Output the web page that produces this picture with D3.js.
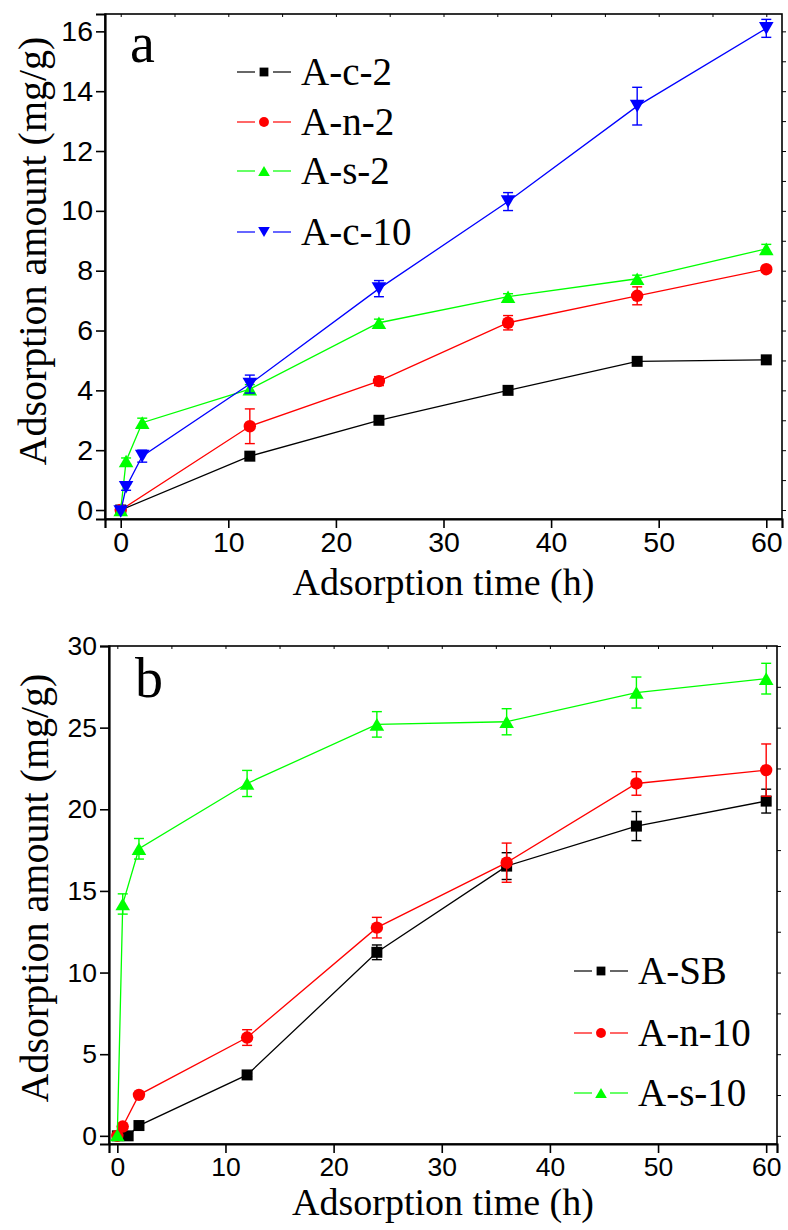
<!DOCTYPE html>
<html>
<head>
<meta charset="utf-8">
<script src="https://cdn.jsdelivr.net/npm/d3@7/dist/d3.min.js"></script>
<style>
  html, body { margin: 0; padding: 0; background: #fff; }
  svg { display: block; }
</style>
</head>
<body>
<svg id="chart" width="788" height="1230"></svg>
<script>
// ---------- DATA ----------
// Panel a
const aXTicks = [0, 10, 20, 30, 40, 50, 60];
const aYTicks = [0, 2, 4, 6, 8, 10, 12, 14, 16];
const aTime_c2 = [0, 12, 24, 36, 48, 60];
const aVal_c2  = [0, 1.8, 3.0, 4.0, 4.97, 5.02];
const aErr_c2  = [0, 0, 0, 0, 0, 0];
const aTime_n2 = [0, 12, 24, 36, 48, 60];
const aVal_n2  = [0, 2.8, 4.31, 6.26, 7.16, 8.05];
const aErr_n2  = [0, 0.58, 0.15, 0.24, 0.3, 0.1];
const aTime_s2 = [0, 0.5, 2, 12, 24, 36, 48, 60];
const aVal_s2  = [0, 1.64, 2.92, 4.04, 6.26, 7.13, 7.73, 8.73];
const aErr_s2  = [0, 0.1, 0.15, 0.15, 0.12, 0.1, 0.12, 0.15];
const aTime_c10 = [0, 0.5, 2, 12, 24, 36, 48, 60];
const aVal_c10  = [-0.05, 0.76, 1.8, 4.21, 7.4, 10.31, 13.5, 16.1];
const aErr_c10  = [0, 0.1, 0.2, 0.3, 0.27, 0.3, 0.63, 0.3];
const aNames = ["A-c-2", "A-n-2", "A-s-2", "A-c-10"];

// Panel b
const bXTicks = [0, 10, 20, 30, 40, 50, 60];
const bYTicks = [0, 5, 10, 15, 20, 25, 30];
const bTime_SB = [0, 1, 2, 12, 24, 36, 48, 60];
const bVal_SB  = [0, 0, 0.63, 3.73, 11.24, 16.52, 18.97, 20.5];
const bErr_SB  = [0, 0, 0, 0.1, 0.45, 0.82, 0.89, 0.73];
const bTime_n10 = [0, 0.5, 2, 12, 24, 36, 48, 60];
const bVal_n10  = [0, 0.57, 2.51, 6.02, 12.75, 16.73, 21.58, 22.4];
const bErr_n10  = [0, 0, 0.1, 0.48, 0.63, 1.2, 0.72, 1.6];
const bTime_s10 = [0, 0.5, 2, 12, 24, 36, 48, 60];
const bVal_s10  = [0.05, 14.2, 17.58, 21.58, 25.2, 25.36, 27.15, 28.0];
const bErr_s10  = [0, 0.62, 0.63, 0.8, 0.78, 0.8, 0.95, 0.94];
const bNames = ["A-SB", "A-n-10", "A-s-10"];

const xTitle = "Adsorption time (h)";
const yTitle = "Adsorption amount (mg/g)";

// ---------- DRAWING ----------
const SERIF = "'Liberation Serif', 'Times New Roman', serif";
const SANS = "'Liberation Sans', Arial, sans-serif";
const svg = d3.select("#chart");

const zip = (t, v, e) => t.map((d, i) => ({x: d, y: v[i], e: e[i]}));

function markerPath(shape) {
  if (shape === "square") { const s = 5.5; return `M${-s},${-s}H${s}V${s}H${-s}Z`; }
  if (shape === "circle") { const r = 6.2; return `M${r},0A${r},${r} 0 1,1 ${-r},0A${r},${r} 0 1,1 ${r},0Z`; }
  if (shape === "up")     { const w = 7.3, h = 6.3; return `M0,${-h}L${w},${h}L${-w},${h}Z`; }
  if (shape === "down")   { const w = 7.3, h = 6.3; return `M0,${h}L${w},${-h}L${-w},${-h}Z`; }
}

function panel(cfg) {
  const g = svg.append("g");
  const x = d3.scaleLinear().domain(cfg.xDomain).range([cfg.left, cfg.right]);
  const y = d3.scaleLinear().domain(cfg.yDomain).range([cfg.bottom, cfg.top]);

  // frame
  g.append("rect").attr("x", cfg.left).attr("y", cfg.top)
    .attr("width", cfg.right - cfg.left).attr("height", cfg.bottom - cfg.top)
    .attr("fill", "none").attr("stroke", "#000").attr("stroke-width", 1.6);

  // bottom axis (major + minor)
  const xMinor = d3.range(cfg.xTicks[0], cfg.xTicks[cfg.xTicks.length - 1] + 0.01, 5);
  const gx = g.append("g").attr("transform", `translate(0,${cfg.bottom})`);
  gx.call(d3.axisBottom(x).tickValues(xMinor).tickSize(5).tickFormat(""));
  gx.call(d3.axisBottom(x).tickValues(cfg.xTicks).tickSize(9).tickPadding(4).tickFormat(d3.format("d")));
  gx.selectAll(".domain").attr("stroke-width", 2.2);
  gx.selectAll("line").attr("stroke-width", 1.6);
  gx.selectAll("text").attr("font-family", SANS).attr("font-size", cfg.tickFont).attr("fill", "#000");

  // left axis
  const step = cfg.yTicks[1] - cfg.yTicks[0];
  const yMinor = d3.range(cfg.yTicks[0], cfg.yTicks[cfg.yTicks.length - 1] + 0.01, step / 2);
  const gy = g.append("g").attr("transform", `translate(${cfg.left},0)`);
  gy.call(d3.axisLeft(y).tickValues(yMinor).tickSize(5).tickFormat(""));
  gy.call(d3.axisLeft(y).tickValues(cfg.yTicks).tickSize(9).tickPadding(3).tickFormat(d3.format("d")));
  gy.selectAll(".domain").attr("stroke-width", 2.2);
  gy.selectAll("line").attr("stroke-width", 1.6);
  gy.selectAll("text").attr("font-family", SANS).attr("font-size", cfg.tickFont).attr("fill", "#000");

  // top & right small ticks
  const gt = g.append("g").attr("transform", `translate(0,${cfg.top})`);
  gt.call(d3.axisBottom(x).tickValues(xMinor).tickSize(3).tickFormat(""));
  gt.select(".domain").remove();
  const gr = g.append("g").attr("transform", `translate(${cfg.right},0)`);
  gr.call(d3.axisRight(y).tickValues(yMinor).tickSize(4).tickFormat(""));
  gr.select(".domain").remove();

  // titles
  g.append("text").attr("x", (cfg.left + cfg.right) / 2).attr("y", cfg.xTitleY)
    .attr("text-anchor", "middle").attr("font-family", SERIF)
    .attr("font-size", 38).text(xTitle);
  g.append("text").attr("transform", `translate(${cfg.yTitleX},${cfg.yTitleCY}) rotate(-90)`)
    .attr("text-anchor", "middle").attr("font-family", SERIF)
    .attr("font-size", 40).text(yTitle);

  // panel letter
  g.append("text").attr("x", cfg.letterX).attr("y", cfg.letterY)
    .attr("font-family", SERIF).attr("font-size", 56).text(cfg.letter);

  // series
  const line = d3.line().x(d => x(d.x)).y(d => y(d.y));
  cfg.series.forEach(s => {
    const sg = g.append("g");
    sg.append("path").datum(s.data).attr("d", line).attr("fill", "none")
      .attr("stroke", s.color).attr("stroke-width", 1.3);
    const eb = sg.selectAll(".eb").data(s.data.filter(d => d.e > 0)).enter().append("g");
    eb.append("line").attr("x1", d => x(d.x)).attr("x2", d => x(d.x))
      .attr("y1", d => y(d.y - d.e)).attr("y2", d => y(d.y + d.e))
      .attr("stroke", s.color).attr("stroke-width", 1.4);
    [1, -1].forEach(sg2 => {
      eb.append("line").attr("x1", d => x(d.x) - 5).attr("x2", d => x(d.x) + 5)
        .attr("y1", d => y(d.y + sg2 * d.e)).attr("y2", d => y(d.y + sg2 * d.e))
        .attr("stroke", s.color).attr("stroke-width", 1.4);
    });
    sg.selectAll(".m").data(s.data).enter().append("path")
      .attr("transform", d => `translate(${x(d.x)},${y(d.y)})`)
      .attr("d", markerPath(s.shape)).attr("fill", s.color);
  });

  // legend
  cfg.legend.forEach((item, i) => {
    const ly = cfg.legendY[i];
    const x0 = cfg.legendX0;
    const lg = g.append("g");
    lg.append("line").attr("x1", x0).attr("x2", x0 + 18)
      .attr("y1", ly).attr("y2", ly).attr("stroke", item.color).attr("stroke-width", 1.2);
    lg.append("line").attr("x1", x0 + 36).attr("x2", x0 + 54)
      .attr("y1", ly).attr("y2", ly).attr("stroke", item.color).attr("stroke-width", 1.2);
    lg.append("path")
      .attr("d", markerPath(item.shape)).attr("fill", item.color)
      .attr("transform", `translate(${x0 + 27},${ly}) scale(0.8)`);
    lg.append("text").attr("x", x0 + 64).attr("y", ly + 13)
      .attr("font-family", SERIF).attr("font-size", 39)
      .text(item.name);
  });
}

const colors = {black: "#000000", red: "#ff0000", green: "#00ff00", blue: "#0000ff"};

panel({
  left: 105, right: 782, top: 14, bottom: 519,
  xDomain: [-1.46, 61.46], yDomain: [-0.3, 16.58],
  xTicks: aXTicks, yTicks: aYTicks, tickFont: 28.5,
  xTitleY: 595, yTitleX: 46, yTitleCY: 251,
  letter: "a", letterX: 130, letterY: 62,
  series: [
    {data: zip(aTime_c2, aVal_c2, aErr_c2), color: colors.black, shape: "square"},
    {data: zip(aTime_n2, aVal_n2, aErr_n2), color: colors.red, shape: "circle"},
    {data: zip(aTime_s2, aVal_s2, aErr_s2), color: colors.green, shape: "up"},
    {data: zip(aTime_c10, aVal_c10, aErr_c10), color: colors.blue, shape: "down"}
  ],
  legend: [
    {name: aNames[0], color: colors.black, shape: "square"},
    {name: aNames[1], color: colors.red, shape: "circle"},
    {name: aNames[2], color: colors.green, shape: "up"},
    {name: aNames[3], color: colors.blue, shape: "down"}
  ],
  legendX0: 237, legendY: [72, 122, 171, 232]
});

panel({
  left: 109, right: 777, top: 646, bottom: 1144,
  xDomain: [-0.77, 61], yDomain: [-0.5, 30],
  xTicks: bXTicks, yTicks: bYTicks, tickFont: 26.5,
  xTitleY: 1215, yTitleX: 48, yTitleCY: 888,
  letter: "b", letterX: 135, letterY: 697,
  series: [
    {data: zip(bTime_SB, bVal_SB, bErr_SB), color: colors.black, shape: "square"},
    {data: zip(bTime_n10, bVal_n10, bErr_n10), color: colors.red, shape: "circle"},
    {data: zip(bTime_s10, bVal_s10, bErr_s10), color: colors.green, shape: "up"}
  ],
  legend: [
    {name: bNames[0], color: colors.black, shape: "square"},
    {name: bNames[1], color: colors.red, shape: "circle"},
    {name: bNames[2], color: colors.green, shape: "up"}
  ],
  legendX0: 574, legendY: [971, 1033, 1093]
});
</script>
</body>
</html>
